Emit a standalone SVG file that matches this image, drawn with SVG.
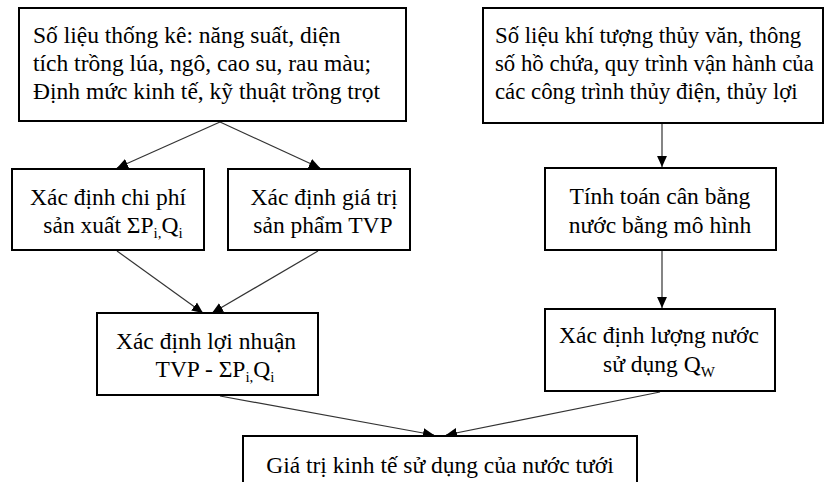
<svg xmlns="http://www.w3.org/2000/svg" width="827" height="482" viewBox="0 0 827 482">
<defs>
<marker id="ah" viewBox="0 0 10 10" refX="10" refY="5" markerWidth="11" markerHeight="11" markerUnits="userSpaceOnUse" orient="auto">
<path d="M0,0.5 L10,5 L0,9.5 Z" fill="#000"/>
</marker>
</defs>
<style>
.box{fill:#fff;stroke:#000;stroke-width:2}
.t{font-family:"Liberation Serif","Times New Roman",serif;font-size:23.5px;fill:#000}
.s{font-size:22.8px}
.m{text-anchor:middle}
.sub{font-size:15px}
.c{stroke:#333;stroke-width:1.2;fill:none;marker-end:url(#ah)}
</style>
<rect width="827" height="482" fill="#fff"/>
<g id="connectors">
<line class="c" x1="220" y1="122" x2="117" y2="168"/>
<line class="c" x1="220" y1="122" x2="320" y2="168"/>
<line class="c" x1="662" y1="124" x2="662" y2="167"/>
<line class="c" x1="662" y1="251" x2="662" y2="308"/>
<line class="c" x1="117" y1="251" x2="203" y2="313"/>
<line class="c" x1="318" y1="251" x2="212" y2="313"/>
<line class="c" x1="220" y1="396" x2="434" y2="435"/>
<line class="c" x1="660" y1="392" x2="446" y2="435"/>
</g>
<g id="n1">
<rect class="box" x="19" y="8" width="387" height="113"/>
<text class="t" x="33" y="43">Số liệu thống kê: năng suất, diện</text>
<text class="t" x="33" y="71">tích trồng lúa, ngô, cao su, rau màu;</text>
<text class="t" x="33" y="99">Định mức kinh tế, kỹ thuật trồng trọt</text>
</g>
<g id="n2">
<rect class="box" x="483" y="8" width="340" height="115"/>
<text class="t s" x="495" y="43">Số liệu khí tượng thủy văn, thông</text>
<text class="t s" x="495" y="71">số hồ chứa, quy trình vận hành của</text>
<text class="t s" x="495" y="99">các công trình thủy điện, thủy lợi</text>
</g>
<g id="n3">
<rect class="box" x="12" y="169" width="192" height="81"/>
<text class="t m" x="108" y="205">Xác định chi phí</text>
<text class="t m" x="113" y="233">sản xuất ΣP<tspan class="sub" dy="5">i,</tspan><tspan dy="-5">Q</tspan><tspan class="sub" dy="5">i</tspan></text>
</g>
<g id="n4">
<rect class="box" x="228" y="169" width="182" height="81"/>
<text class="t m" x="324" y="205">Xác định giá trị</text>
<text class="t m" x="323" y="233">sản phẩm TVP</text>
</g>
<g id="n5">
<rect class="box" x="545" y="168" width="231" height="82"/>
<text class="t m" x="660" y="204">Tính toán cân bằng</text>
<text class="t m" x="660" y="233">nước bằng mô hình</text>
</g>
<g id="n6">
<rect class="box" x="97" y="313" width="221" height="82"/>
<text class="t m" x="206" y="349">Xác định lợi nhuận</text>
<text class="t m" x="215" y="377">TVP - ΣP<tspan class="sub" dy="5">i,</tspan><tspan dy="-5">Q</tspan><tspan class="sub" dy="5">i</tspan></text>
</g>
<g id="n7">
<rect class="box" x="545" y="309" width="230" height="82"/>
<text class="t m" x="659" y="343">Xác định lượng nước</text>
<text class="t m" x="659" y="372">sử dụng Q<tspan class="sub" dy="5">W</tspan></text>
</g>
<g id="n8">
<rect class="box" x="243" y="436" width="394" height="52"/>
<text class="t m" x="440" y="473">Giá trị kinh tế sử dụng của nước tưới</text>
</g>
</svg>
